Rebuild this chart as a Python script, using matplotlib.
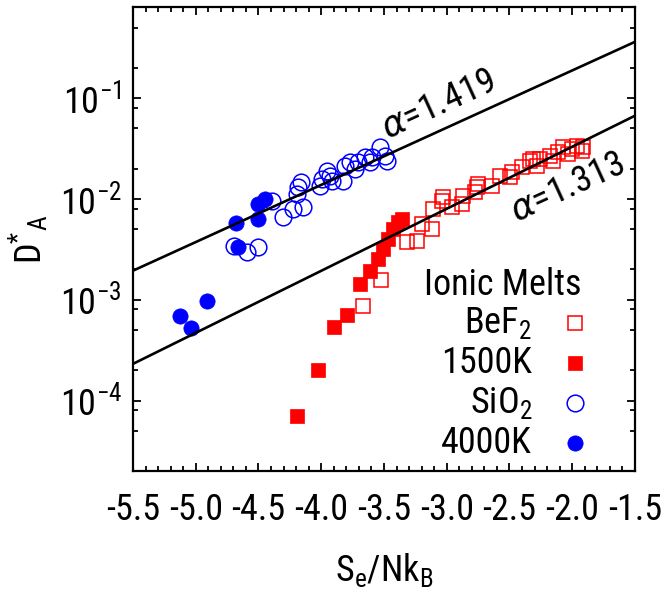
import matplotlib
matplotlib.use('Agg')
import matplotlib.pyplot as plt
from matplotlib import font_manager
from matplotlib.ticker import MultipleLocator, LogLocator, NullFormatter

names = {f.name for f in font_manager.fontManager.ttflist}
fam = 'Liberation Sans'
for cand in ['Liberation Sans Narrow', 'Roboto Condensed', 'Archivo Narrow', 'PT Sans Narrow']:
    if cand in names:
        fam = cand
        break
narrow = fam != 'Liberation Sans'
plt.rcParams['font.family'] = [fam, 'DejaVu Sans']
plt.rcParams['mathtext.fontset'] = 'custom'
plt.rcParams['mathtext.rm'] = fam
plt.rcParams['mathtext.it'] = 'DejaVu Sans:italic'
plt.rcParams['axes.unicode_minus'] = False

# ---------------- data ----------------
bef2_x = [-3.667, -3.524, -3.317, -3.237, -3.197, -3.118, -3.110, -3.038, -3.030,
          -2.958, -2.878, -2.870, -2.775, -2.759, -2.751, -2.639, -2.576, -2.496,
          -2.480, -2.400, -2.337, -2.313, -2.257, -2.281, -2.177, -2.153, -2.114,
          -2.074, -2.034, -2.002, -1.962, -1.922, -1.914]
bef2_y = [8.68e-4, 1.57e-3, 3.74e-3, 3.83e-3, 5.64e-3, 5.03e-3, 7.94e-3, 9.53e-3, 1.045e-2,
          8.32e-3, 8.90e-3, 1.07e-2, 1.17e-2, 1.31e-2, 1.41e-2, 1.34e-2, 1.69e-2, 1.65e-2,
          1.85e-2, 2.07e-2, 2.38e-2, 2.48e-2, 2.48e-2, 2.12e-2, 2.66e-2, 2.38e-2, 2.92e-2,
          3.27e-2, 2.79e-2, 3.12e-2, 3.34e-2, 2.99e-2, 3.27e-2]

k1500_x = [-4.193, -4.026, -3.898, -3.795, -3.691, -3.612, -3.548, -3.508, -3.468,
           -3.428, -3.388, -3.357]
k1500_y = [7.05e-5, 2.01e-4, 5.38e-4, 7.07e-4, 1.43e-3, 1.93e-3, 2.54e-3, 3.19e-3, 4.00e-3,
           5.03e-3, 5.90e-3, 6.32e-3]

sio2_x = [-4.695, -4.592, -4.504, -4.392, -4.305, -4.225, -4.145, -4.193, -4.185, -4.161,
          -4.010, -3.994, -3.954, -3.930, -3.914, -3.827, -3.811, -3.771, -3.731, -3.707,
          -3.651, -3.612, -3.596, -3.532, -3.492, -3.476]
sio2_y = [3.41e-3, 2.98e-3, 3.33e-3, 9.53e-3, 6.62e-3, 7.94e-3, 8.32e-3, 1.119e-2, 1.31e-2, 1.47e-2,
          1.34e-2, 1.57e-2, 1.89e-2, 1.69e-2, 1.50e-2, 1.50e-2, 2.12e-2, 2.32e-2, 1.98e-2, 2.32e-2,
          2.60e-2, 2.32e-2, 2.60e-2, 3.27e-2, 2.66e-2, 2.38e-2]

k4000_x = [-5.126, -5.038, -4.910, -4.679, -4.663, -4.504, -4.504, -4.448]
k4000_y = [6.90e-4, 5.26e-4, 9.73e-4, 5.77e-3, 3.33e-3, 6.32e-3, 8.90e-3, 9.97e-3]

fit_x = [-5.5, -1.5]
fit_upper_y = [1.94e-3, 0.361]
fit_lower_y = [2.31e-4, 0.0668]

alpha_labels = [r'$\alpha$=1.419', r'$\alpha$=1.313']
legend_title = 'Ionic Melts'
legend_labels = [r'$\mathregular{BeF_2}$', '1500K', r'$\mathregular{SiO_2}$', '4000K']
xticks = [-5.5, -5.0, -4.5, -4.0, -3.5, -3.0, -2.5, -2.0, -1.5]
yticks = [1e-4, 1e-3, 1e-2, 1e-1]
ytick_labels = [r'$\mathregular{10^{-4}}$', r'$\mathregular{10^{-3}}$',
                r'$\mathregular{10^{-2}}$', r'$\mathregular{10^{-1}}$']

# ---------------- figure ----------------
FS = 26 if narrow else 21
RED = '#ff0000'
BLUE = '#0000ff'
fig = plt.figure(figsize=(6.64, 5.92), dpi=100)
ax = fig.add_axes([0.2003, 0.2044, 0.7560, 0.7838])
ax.set_yscale('log')

sq_ms, ci_ms, fc_ms = 10.5, 12, 11
ax.plot(bef2_x, bef2_y, ls='none', marker='s', ms=sq_ms, mfc='none', mec=RED, mew=1.1, zorder=2)
ax.plot(k1500_x, k1500_y, ls='none', marker='s', ms=sq_ms, mfc=RED, mec=RED, mew=0.5, zorder=3)
ax.plot(sio2_x, sio2_y, ls='none', marker='o', ms=ci_ms, mfc='none', mec=BLUE, mew=1.1, zorder=2)
ax.plot(k4000_x, k4000_y, ls='none', marker='o', ms=fc_ms, mfc=BLUE, mec=BLUE, mew=0.5, zorder=3)

ax.plot(fit_x, fit_upper_y, color='black', lw=1.9, zorder=4)
ax.plot(fit_x, fit_lower_y, color='black', lw=1.9, zorder=4)

ax.text(-3.07, 0.0872, alpha_labels[0], fontsize=FS, rotation=24.5,
        ha='center', va='center', rotation_mode='anchor')
ax.text(-2.042, 0.0131, alpha_labels[1], fontsize=FS, rotation=24.5,
        ha='center', va='center', rotation_mode='anchor')

ax.set_xlim(-5.5, -1.5)
ax.set_ylim(2e-5, 0.8)

ax.set_xticks(xticks)
ax.set_xticklabels([f'{v:.1f}' for v in xticks])
ax.xaxis.set_minor_locator(MultipleLocator(0.1))
ax.set_yticks(yticks)
ax.set_yticklabels(ytick_labels)
ax.yaxis.set_minor_locator(LogLocator(base=10, subs=[2, 5, 8], numticks=20))
ax.yaxis.set_minor_formatter(NullFormatter())

ax.tick_params(which='both', direction='in', top=True, right=True, width=1.3, color='black')
ax.tick_params(which='major', length=6)
ax.tick_params(which='minor', length=3.5)
ax.tick_params(axis='x', which='major', labelsize=FS, pad=15)
ax.tick_params(axis='y', which='major', labelsize=FS, pad=8)
for s in ax.spines.values():
    s.set_linewidth(1.6)

ax.set_xlabel(r'$\mathregular{S_e/Nk_B}$', fontsize=FS, labelpad=17)
ax.set_ylabel(r'$\mathregular{D^{*}{}_{A}}$', fontsize=FS, labelpad=7)

# legend (gnuplot style: right-aligned labels, key to the right)
tr = ax.transAxes
ax.text(0.894, 0.401, legend_title, transform=tr, fontsize=FS, ha='right', va='center')
rows = [0.319, 0.233, 0.147, 0.060]
styles = [dict(marker='s', ms=sq_ms, mfc='none', mec=RED, mew=1.1),
          dict(marker='s', ms=sq_ms, mfc=RED, mec=RED, mew=0.5),
          dict(marker='o', ms=ci_ms, mfc='none', mec=BLUE, mew=1.1),
          dict(marker='o', ms=fc_ms, mfc=BLUE, mec=BLUE, mew=0.5)]
for yy, lab, st in zip(rows, legend_labels, styles):
    ax.text(0.795, yy, lab, transform=tr, fontsize=FS, ha='right', va='center')
    ax.plot([0.880], [yy], transform=tr, ls='none', clip_on=False, **st)

fig.savefig('out.png', dpi=100)
